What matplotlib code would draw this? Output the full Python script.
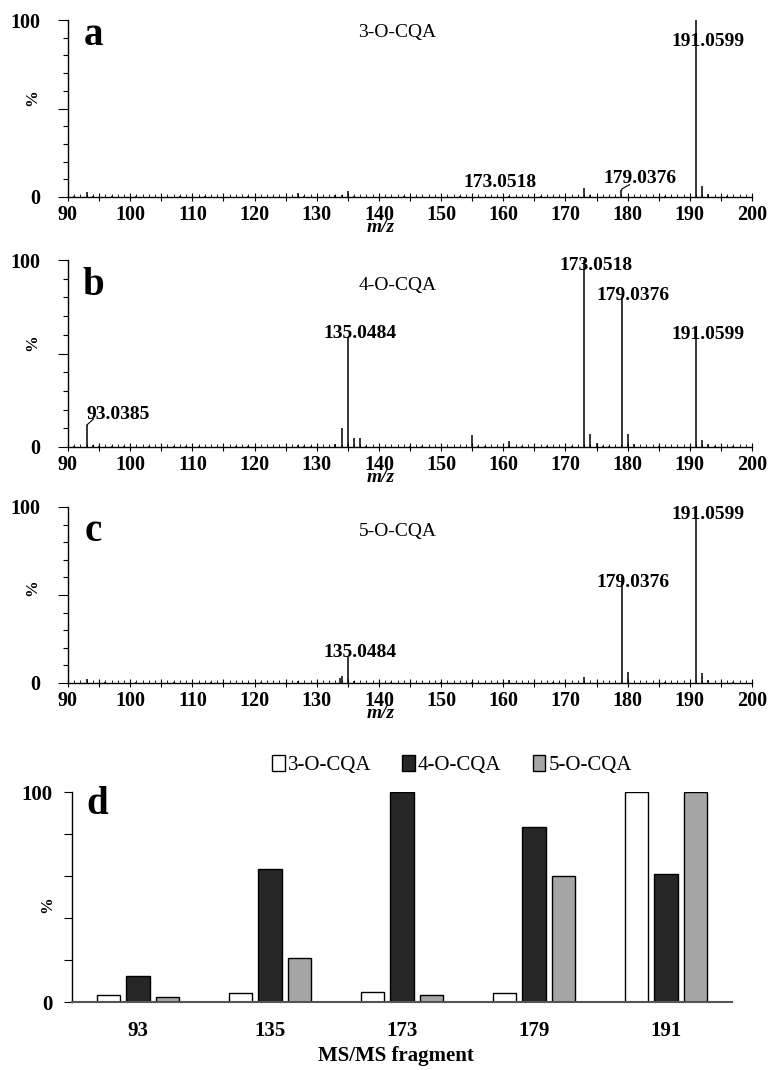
import numpy as np
import matplotlib
matplotlib.use('Agg')
import matplotlib.pyplot as plt
from matplotlib.patches import Patch

plt.rcParams['font.family'] = ['Liberation Serif', 'DejaVu Serif']

# MS/MS spectra (m/z, relative intensity %)
mz_a = [91, 93, 94, 97, 101, 108, 112, 119, 127, 128, 133, 134, 135, 136, 144, 153, 161, 166,
        173, 174, 179, 186, 191.06, 192, 193, 196]
int_a = [0.6, 2.8, 0.8, 0.5, 0.5, 0.6, 0.5, 0.5, 2.0, 0.8, 1.0, 1.2, 3.4, 0.8, 0.5, 0.6, 0.8, 0.5,
         5.0, 1.2, 3.8, 0.5, 100, 6.0, 1.5, 0.5]

mz_b = [91, 93.04, 94, 95, 97, 99, 103, 107, 109, 111, 117, 119, 127, 128, 129, 133, 134, 135.05,
        136, 137, 138, 145, 147, 155, 156, 157, 161, 163, 167, 171, 173.05, 174, 175, 176, 177,
        179.04, 180, 181, 185, 191.06, 192, 193, 194, 197]
int_b = [0.8, 11.8, 1.2, 0.6, 0.7, 0.6, 0.5, 0.8, 0.8, 0.7, 0.6, 0.5, 1.2, 0.8, 0.6, 1.5, 10, 59,
         5.0, 5.0, 0.8, 0.6, 0.5, 6.2, 0.7, 0.7, 3.0, 0.6, 0.5, 0.8, 100, 7.0, 2.0, 0.8, 0.8,
         80, 7.0, 1.5, 0.6, 58, 4.0, 1.5, 0.8, 0.6]

mz_c = [93, 96, 101, 107, 113, 121, 127, 133.8, 134, 135.05, 136, 142, 150, 155, 161, 168,
        173, 179.04, 180, 186, 191.06, 192, 193, 197]
int_c = [2.0, 0.6, 0.5, 0.7, 0.5, 0.5, 1.0, 3.0, 4.0, 15, 1.2, 0.5, 0.5, 0.8, 1.5, 0.5,
         3.4, 60, 6.0, 0.5, 100, 5.7, 1.5, 0.5]

# bar chart of fragment intensities
fragments = ['93', '135', '173', '179', '191']
cqa3 = [3.3, 4.4, 4.9, 4.3, 100]
cqa4 = [12.2, 63.3, 100, 83.1, 61.1]
cqa5 = [2.2, 20.9, 3.2, 59.8, 100]

fig = plt.figure(figsize=(7.75, 10.7), dpi=100)

def spectrum(rect, mz, inten, letter, letter_y, name, name_y, pct_y, labels):
    ax = fig.add_axes(rect)
    ax.vlines(mz, 0, inten, color='black', lw=1.1)
    ax.set_xlim(90, 200)
    ax.set_ylim(0, 100)
    for s in ['top', 'right']:
        ax.spines[s].set_visible(False)
    ax.spines['left'].set_linewidth(1.0)
    ax.spines['bottom'].set_linewidth(1.0)
    ax.set_xticks(np.arange(90, 201, 5))
    ax.set_xticklabels([str(v) if v % 10 == 0 else '' for v in range(90, 201, 5)])
    ax.set_xticks(np.arange(90, 201, 1), minor=True)
    ax.set_yticks([0, 50, 100])
    ax.set_yticklabels(['0', '', '100'])
    ax.set_yticks(np.arange(0, 101, 10), minor=True)
    ax.tick_params(axis='x', which='major', direction='inout', length=6, width=0.8, pad=3,
                   labelsize=14.5)
    ax.tick_params(axis='x', which='minor', direction='in', length=2.5, width=0.6)
    ax.tick_params(axis='y', which='major', direction='out', length=7, width=0.8, pad=13,
                   labelsize=14.5)
    ax.tick_params(axis='y', which='minor', direction='out', length=3.5, width=0.8)
    for t in ax.get_xticklabels() + ax.get_yticklabels():
        t.set_fontweight('bold')
    fig.text(32 / 775, 1 - pct_y / 1070, '%', fontsize=12, fontweight='bold', rotation=90,
             ha='center', va='center')
    h = rect[3] * 1070
    ax.text(140.3, -30 / h * 100, 'm/z', fontsize=14, fontweight='bold', style='italic',
            ha='center', va='center', clip_on=False)
    ax.text(0.037, letter_y, letter, transform=ax.transAxes, fontsize=28, fontweight='bold',
            ha='center', va='center')
    ax.text(143, name_y, name, fontsize=14, ha='center', va='center')
    for txt, x, y, ha, lead in labels:
        ax.text(x, y, txt, fontsize=14, fontweight='bold', ha=ha, va='center')
        if lead is not None:
            ax.plot(lead[0], lead[1], color='black', lw=0.8)
    return ax

spectrum([68 / 775, 1 - 197 / 1070, 684 / 775, 177 / 1070], mz_a, int_a, 'a', 0.91,
         '3-O-CQA', 93, 98,
         [('191.0599', 192.9, 87.6, 'center', None),
          ('173.0518', 159.4, 8, 'center', None),
          ('179.0376', 182.0, 10.5, 'center', ([179.04, 179.04, 180.3], [3.8, 4.5, 7.0]))])

spectrum([68 / 775, 1 - 447 / 1070, 684 / 775, 187 / 1070], mz_b, int_b, 'b', 0.866,
         '4-O-CQA', 86.6, 343,
         [('93.0385', 93.04, 17.5, 'left', ([93.04, 94.1], [11.8, 15.0])),
          ('135.0484', 136.9, 60.5, 'center', None),
          ('173.0518', 174.9, 97, 'center', None),
          ('179.0376', 180.9, 81, 'center', None),
          ('191.0599', 192.9, 60, 'center', None)])

spectrum([68 / 775, 1 - 683 / 1070, 684 / 775, 176 / 1070], mz_c, int_c, 'c', 0.858,
         '5-O-CQA', 85.8, 588,
         [('135.0484', 136.9, 17.6, 'center', None),
          ('179.0376', 180.9, 57, 'center', None),
          ('191.0599', 192.9, 95.5, 'center', None)])

# panel d
axd = fig.add_axes([72 / 775, 1 - 1002 / 1070, 660 / 775, 210 / 1070])
x = np.arange(len(fragments))
w = 0.178
off = 0.223
axd.bar(x - off, cqa3, w, color='white', edgecolor='black', lw=1.0, label='3-O-CQA')
axd.bar(x, cqa4, w, color='#262626', edgecolor='black', lw=1.0, label='4-O-CQA')
axd.bar(x + off, cqa5, w, color='#a6a6a6', edgecolor='black', lw=1.0, label='5-O-CQA')
axd.set_xlim(-0.5, 4.5)
axd.set_ylim(0, 100)
for s in ['top', 'right']:
    axd.spines[s].set_visible(False)
axd.spines['bottom'].set_color('#555555')
axd.spines['bottom'].set_linewidth(1.5)
axd.spines['left'].set_linewidth(1.0)
axd.set_xticks(x)
axd.set_xticklabels(fragments)
axd.set_yticks([0, 20, 40, 60, 80, 100])
axd.set_yticklabels(['0', '', '', '', '', '100'])
axd.tick_params(axis='x', length=0, pad=14, labelsize=15)
axd.tick_params(axis='y', direction='out', length=6, width=0.8, pad=8, labelsize=15)
for t in axd.get_xticklabels() + axd.get_yticklabels():
    t.set_fontweight('bold')
fig.text(47 / 775, 1 - 905 / 1070, '%', fontsize=12, fontweight='bold', rotation=90,
         ha='center', va='center')
fig.text(396 / 775, 1 - 1056 / 1070, 'MS/MS fragment', fontsize=15, fontweight='bold',
         ha='center', va='center')
axd.text(0.038, 0.94, 'd', transform=axd.transAxes, fontsize=28, fontweight='bold',
         ha='center', va='center')
handles = [Patch(facecolor='white', edgecolor='black', lw=1.0),
           Patch(facecolor='#262626', edgecolor='black', lw=1.0),
           Patch(facecolor='#a6a6a6', edgecolor='black', lw=1.0)]
fig.legend(handles, ['3-O-CQA', '4-O-CQA', '5-O-CQA'], loc='center',
           bbox_to_anchor=(452 / 775, 1 - 765 / 1070), ncol=3, frameon=False, fontsize=15,
           handlelength=0.6, handleheight=0.8, handletextpad=0.15, columnspacing=1.5)

fig.savefig('out.png', dpi=100)
